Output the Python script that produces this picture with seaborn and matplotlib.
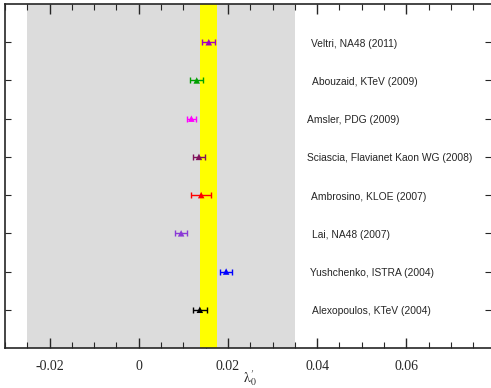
"""
Lambda_0' measurements: ideogram style comparison plot.
"""
import numpy as np
import pandas as pd
import matplotlib.pyplot as plt
import seaborn as sns
from matplotlib.ticker import MultipleLocator

# %% Data (bottom to top)
labels = ['Alexopoulos, KTeV (2004)', 'Yushchenko, ISTRA (2004)',
          'Lai, NA48 (2007)', 'Ambrosino, KLOE (2007)',
          'Sciascia, Flavianet Kaon WG (2008)', 'Amsler, PDG (2009)',
          'Abouzaid, KTeV (2009)', 'Veltri, NA48 (2011)']
lam0 = [0.0137, 0.0196, 0.0095, 0.0140, 0.0135, 0.0118, 0.0130, 0.0157]
err = [0.0015, 0.0014, 0.0013, 0.0022, 0.0013, 0.0010, 0.0015, 0.0015]
label_x = [0.0388, 0.0385, 0.0388, 0.0387, 0.0378, 0.0378, 0.0388, 0.0387]
colors = ['black', 'blue', '#8a3ad6', 'red', '#80105a', '#ff00ff',
          '#00a000', '#a000c0']

band_grey = (-0.025, 0.035)
band_yellow = (0.0138, 0.0175)

df = pd.DataFrame({'label': labels, 'lam0': lam0, 'err': err,
                   'row': np.arange(1, len(labels) + 1)})

# %% Plot
sns.set_style('ticks')
plt.rcParams['font.family'] = ['Liberation Serif', 'DejaVu Serif']
plt.rcParams['mathtext.fontset'] = 'stix'

fig = plt.figure(figsize=(4.91, 3.88), dpi=100)
ax = fig.add_axes([5/491, 40/388, 486/491, 344/388])

ax.axvspan(*band_grey, color='#dcdcdc', lw=0, zorder=0)
ax.axvspan(*band_yellow, color='#ffff00', lw=0, zorder=1)

for i, r in df.iterrows():
    ax.errorbar(r['lam0'], r['row'], xerr=r['err'], fmt='none',
                ecolor=colors[i], elinewidth=1, capsize=2.5, capthick=1,
                zorder=3)
sns.scatterplot(data=df, x='lam0', y='row', hue='label', palette=colors,
                marker='^', s=22, edgecolor='none', legend=False, ax=ax,
                zorder=4)

for i, r in df.iterrows():
    ax.text(label_x[i], r['row'] - 0.04, r['label'], fontsize=7.4,
            family='Liberation Sans', va='center', ha='left')

ax.set_xlim(-0.03, 0.079)
ax.set_ylim(0, 9)
ax.xaxis.set_major_locator(MultipleLocator(0.02))
ax.xaxis.set_minor_locator(MultipleLocator(0.005))
ax.set_xticks(np.arange(-0.02, 0.07, 0.02))
ax.set_xticklabels(['-0.02', '0', '0.02', '0.04', '0.06'])
ax.set_yticks(np.arange(1, 9))
ax.set_yticklabels([])
ax.tick_params(axis='x', which='major', direction='in', length=7,
               top=True, labelsize=10, width=1, pad=9)
ax.tick_params(axis='x', which='minor', direction='in', length=4,
               top=True, width=0.8)
ax.tick_params(axis='y', direction='in', length=4, right=True, width=0.8)
for side in ['left', 'bottom', 'top']:
    ax.spines[side].set_linewidth(1.2)
ax.spines['right'].set_visible(False)
ax.set_xlabel(r"$\mathrm{\lambda}_0^{\prime}$", fontsize=10)
ax.xaxis.set_label_coords(0.504, -0.058)
ax.set_ylabel('')

fig.savefig('out.png', dpi=100)
